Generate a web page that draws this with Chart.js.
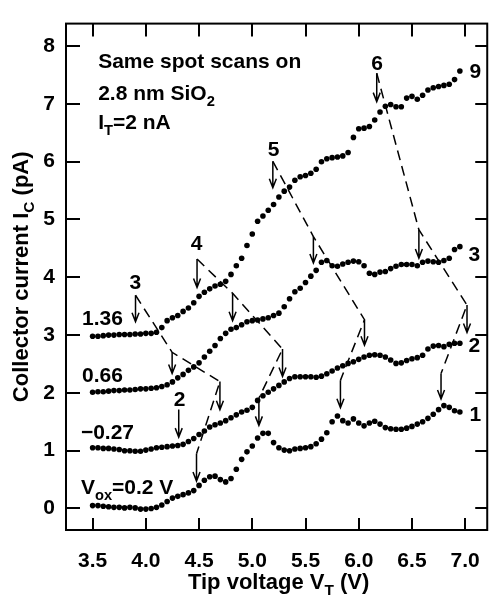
<!DOCTYPE html>
<html>
<head>
<meta charset="utf-8">
<script src="https://cdn.jsdelivr.net/npm/chart.js@4.4.1/dist/chart.umd.min.js"></script>
<style>
  html, body { margin: 0; padding: 0; background: #fff; }
</style>
</head>
<body>
<canvas id="myChart" width="499" height="597"></canvas>
<script>
// tip voltage (V), shared by all scans
const voltages = [
    3.50, 3.55, 3.60, 3.65, 3.70, 3.75, 3.80, 3.85, 3.90, 3.95,
    4.00, 4.05, 4.10, 4.15, 4.20, 4.25, 4.30, 4.35, 4.40, 4.45,
    4.50, 4.55, 4.60, 4.65, 4.70, 4.75, 4.80, 4.85, 4.90, 4.95,
    5.00, 5.05, 5.10, 5.15, 5.20, 5.25, 5.30, 5.35, 5.40, 5.45,
    5.50, 5.55, 5.60, 5.65, 5.70, 5.75, 5.80, 5.85, 5.90, 5.95,
    6.00, 6.05, 6.10, 6.15, 6.20, 6.25, 6.30, 6.35, 6.40, 6.45,
    6.50, 6.55, 6.60, 6.65, 6.70, 6.75, 6.80, 6.85, 6.90, 6.95
];

// collector current (pA), curves offset as in the figure
const scan1 = [ // Vox = 0.2 V
    0.05, 0.05, 0.04, 0.03, 0.02, 0.02, 0.01, 0.02, 0.01, -0.01,
    -0.01, 0.00, 0.02, 0.06, 0.12, 0.18, 0.21, 0.24, 0.27, 0.31,
    0.40, 0.49, 0.55, 0.56, 0.50, 0.46, 0.52, 0.68, 0.85, 0.98,
    1.08, 1.22, 1.30, 1.30, 1.14, 1.05, 1.01, 1.00, 1.03, 1.04,
    1.05, 1.07, 1.12, 1.20, 1.31, 1.50, 1.60, 1.52, 1.48, 1.55,
    1.48, 1.43, 1.48, 1.51, 1.46, 1.40, 1.38, 1.37, 1.37, 1.39,
    1.42, 1.46, 1.50, 1.56, 1.63, 1.71, 1.78, 1.75, 1.69, 1.67
];
const scan2 = [ // Vox = -0.27 V
    1.05, 1.05, 1.04, 1.04, 1.03, 1.02, 1.00, 1.00, 0.99, 0.99,
    1.01, 1.03, 1.05, 1.06, 1.07, 1.08, 1.09, 1.11, 1.16, 1.21,
    1.28, 1.34, 1.41, 1.45, 1.48, 1.52, 1.57, 1.62, 1.67, 1.70,
    1.75, 1.87, 1.95, 2.01, 2.07, 2.13, 2.19, 2.25, 2.28, 2.28,
    2.28, 2.28, 2.27, 2.29, 2.33, 2.38, 2.43, 2.47, 2.51, 2.54,
    2.58, 2.62, 2.65, 2.66, 2.65, 2.62, 2.57, 2.51, 2.52, 2.56,
    2.59, 2.61, 2.65, 2.76, 2.81, 2.82, 2.80, 2.84, 2.86, 2.86
];
const scan3 = [ // Vox = 0.66 V
    2.01, 2.02, 2.02, 2.03, 2.04, 2.04, 2.05, 2.05, 2.06, 2.07,
    2.07, 2.08, 2.09, 2.11, 2.14, 2.19, 2.26, 2.32, 2.39, 2.45,
    2.52, 2.62, 2.72, 2.82, 2.94, 3.03, 3.10, 3.13, 3.18, 3.23,
    3.25, 3.26, 3.28, 3.30, 3.34, 3.38, 3.49, 3.63, 3.75, 3.81,
    3.91, 4.02, 4.12, 4.26, 4.29, 4.20, 4.19, 4.23, 4.26, 4.28,
    4.27, 4.20, 4.07, 4.05, 4.09, 4.10, 4.15, 4.19, 4.22, 4.22,
    4.22, 4.20, 4.26, 4.28, 4.27, 4.26, 4.29, 4.33, 4.48, 4.53
];
const scan9 = [ // Vox = 1.36 V
    2.98, 2.98, 2.99, 3.00, 3.00, 3.01, 3.01, 3.01, 3.02, 3.02,
    3.03, 3.03, 3.05, 3.13, 3.25, 3.30, 3.34, 3.41, 3.47, 3.56,
    3.67, 3.74, 3.80, 3.85, 3.88, 3.93, 4.05, 4.20, 4.33, 4.55,
    4.75, 4.97, 5.06, 5.16, 5.26, 5.39, 5.49, 5.56, 5.68, 5.74,
    5.76, 5.80, 5.87, 6.00, 6.05, 6.07, 6.08, 6.10, 6.16, 6.42,
    6.57, 6.58, 6.61, 6.72, 6.86, 6.96, 6.99, 6.95, 6.95, 7.10,
    7.13, 7.08, 7.15, 7.24, 7.28, 7.30, 7.32, 7.34, 7.42, 7.57
];

const xTicks = [3.5, 4.0, 4.5, 5.0, 5.5, 6.0, 6.5, 7.0];
const yTicks = [0, 1, 2, 3, 4, 5, 6, 7, 8];

// curve labels: [text, V, I] (left aligned, baseline)
const curveLabels = [
    ['1.36', 3.40, 3.18], ['0.66', 3.40, 2.19], ['\u22120.27', 3.39, 1.21],
    ['9', 7.04, 7.44], ['3', 7.03, 4.28], ['2', 7.03, 2.70], ['1', 7.04, 1.52]
];

// features: label, label position, arrows (V, top, tip), dashed path through arrow tops
const featureNames = ['2', '3', '4', '5', '6'];
const featureLabelAt = [[4.316, 1.77], [3.902, 3.79], [4.476, 4.48], [5.199, 6.09], [6.172, 7.59]];
const featureArrowV = [
    [4.309],
    [3.903, 4.247, 4.696, 4.476],
    [4.481, 4.815, 5.284, 5.062],
    [5.193, 5.574, 6.054, 5.828],
    [6.169, 6.565, 7.017, 6.773]
];
const featureArrowTop = [
    [1.714],
    [3.689, 2.702, 2.195, 0.948],
    [4.315, 3.723, 2.758, 1.912],
    [6.007, 4.704, 3.266, 2.217],
    [7.530, 4.822, 3.519, 2.335]
];
const featureArrowTip = [
    [1.235],
    [3.232, 2.335, 1.709, 0.474],
    [3.824, 3.249, 2.284, 1.438],
    [5.550, 4.247, 2.826, 1.743],
    [7.039, 4.332, 3.046, 1.895]
];

const FONT = '"Liberation Sans", Arial, Helvetica, sans-serif';

function toPoints(ys) {
    return voltages.map((v, i) => ({x: v, y: ys[i]}));
}

// draw text with subscript pieces, parts = [[text, isSub], ...]
function richText(ctx, parts, x, y, size, align) {
    const widths = parts.map(p => {
        ctx.font = 'bold ' + (p[1] ? size * 0.7 : size) + 'px ' + FONT;
        return ctx.measureText(p[0]).width;
    });
    const total = widths.reduce((a, b) => a + b, 0);
    let cx = align === 'center' ? x - total / 2 : (align === 'right' ? x - total : x);
    parts.forEach((p, i) => {
        ctx.font = 'bold ' + (p[1] ? size * 0.7 : size) + 'px ' + FONT;
        ctx.fillText(p[0], cx, p[1] ? y + size * 0.28 : y);
        cx += widths[i];
    });
}

function drawArrow(ctx, px, top, tip) {
    ctx.setLineDash([]);
    ctx.beginPath();
    ctx.moveTo(px, top);
    ctx.lineTo(px, tip);
    ctx.moveTo(px - 3.5, tip - 9);
    ctx.lineTo(px, tip);
    ctx.lineTo(px + 3.5, tip - 9);
    ctx.stroke();
}

const decorPlugin = {
    id: 'decor',
    afterDatasetsDraw(chart) {
        const {ctx, chartArea: a} = chart;
        const x = chart.scales.x, y = chart.scales.y;
        ctx.save();
        ctx.strokeStyle = '#000';
        ctx.fillStyle = '#000';

        // frame and inward ticks
        ctx.lineWidth = 2;
        ctx.strokeRect(a.left, a.top, a.right - a.left, a.bottom - a.top);
        ctx.beginPath();
        xTicks.forEach(v => {
            const px = Math.round(x.getPixelForValue(v));
            ctx.moveTo(px, a.bottom); ctx.lineTo(px, a.bottom - 12);
            ctx.moveTo(px, a.top); ctx.lineTo(px, a.top + 13);
        });
        yTicks.forEach(v => {
            const py = Math.round(y.getPixelForValue(v));
            ctx.moveTo(a.left, py); ctx.lineTo(a.left + 14, py);
            ctx.moveTo(a.right, py); ctx.lineTo(a.right - 12, py);
        });
        ctx.stroke();

        // dashed feature lines and arrows
        ctx.lineWidth = 1.5;
        featureNames.forEach((name, g) => {
            const vs = featureArrowV[g], tops = featureArrowTop[g], tips = featureArrowTip[g];
            if (vs.length > 1) {
                ctx.setLineDash([10, 6]);
                ctx.beginPath();
                vs.forEach((v, i) => {
                    const px = x.getPixelForValue(v), py = y.getPixelForValue(tops[i]);
                    if (i === 0) ctx.moveTo(px, py); else ctx.lineTo(px, py);
                });
                ctx.stroke();
            }
            vs.forEach((v, i) => {
                drawArrow(ctx, x.getPixelForValue(v), y.getPixelForValue(tops[i]), y.getPixelForValue(tips[i]));
            });
            ctx.textAlign = 'left';
            richText(ctx, [[name, false]], x.getPixelForValue(featureLabelAt[g][0]), y.getPixelForValue(featureLabelAt[g][1]), 21, 'center');
        });

        // curve labels
        ctx.textAlign = 'left';
        ctx.textBaseline = 'alphabetic';
        curveLabels.forEach(l => {
            richText(ctx, [[l[0], false]], x.getPixelForValue(l[1]), y.getPixelForValue(l[2]), 21, 'left');
        });
        richText(ctx, [['V', false], ['ox', true], ['=0.2 V', false]], x.getPixelForValue(3.39), y.getPixelForValue(0.25), 21, 'left');

        // header text
        const hx = x.getPixelForValue(3.552);
        richText(ctx, [['Same spot scans on', false]], hx, y.getPixelForValue(7.614), 21, 'left');
        richText(ctx, [['2.8 nm SiO', false], ['2', true]], hx, y.getPixelForValue(7.073), 21, 'left');
        richText(ctx, [['I', false], ['T', true], ['=2 nA', false]], hx, y.getPixelForValue(6.557), 21, 'left');

        // axis titles
        richText(ctx, [['Tip voltage V', false], ['T', true], [' (V)', false]], (a.left + a.right) / 2 + 2, 589, 22, 'center');
        ctx.translate(28, (a.top + a.bottom) / 2);
        ctx.rotate(-Math.PI / 2);
        richText(ctx, [['Collector current I', false], ['C', true], [' (pA)', false]], 0, 0, 22, 'center');
        ctx.restore();
    }
};

const tickFont = {family: FONT, size: 21, weight: 'bold'};

const ctx = document.getElementById('myChart');
const chartGraphic = new Chart(ctx, {
    type: 'scatter',
    data: {
        datasets: [scan1, scan2, scan3, scan9].map(s => ({
            data: toPoints(s),
            pointRadius: 2.8,
            pointBorderWidth: 0,
            pointBackgroundColor: '#000',
            showLine: false
        }))
    },
    options: {
        responsive: false,
        animation: false,
        devicePixelRatio: 1,
        layout: {padding: {top: 12, right: 1, left: 0, bottom: 0}},
        plugins: {legend: {display: false}, tooltip: {enabled: false}},
        scales: {
            x: {
                type: 'linear',
                min: 3.25,
                max: 7.207,
                afterBuildTicks: s => { s.ticks = xTicks.map(v => ({value: v})); },
                afterFit: s => { s.height = 67; },
                grid: {display: false, drawTicks: false},
                border: {display: false},
                ticks: {font: tickFont, color: '#000', padding: 19, maxRotation: 0, callback: v => v.toFixed(1)}
            },
            y: {
                type: 'linear',
                min: -0.372,
                max: 8.389,
                afterBuildTicks: s => { s.ticks = yTicks.map(v => ({value: v})); },
                afterFit: s => { s.width = 66; },
                grid: {display: false, drawTicks: false},
                border: {display: false},
                ticks: {font: tickFont, color: '#000', padding: 11, callback: v => String(v)}
            }
        }
    },
    plugins: [decorPlugin]
});
</script>
</body>
</html>
